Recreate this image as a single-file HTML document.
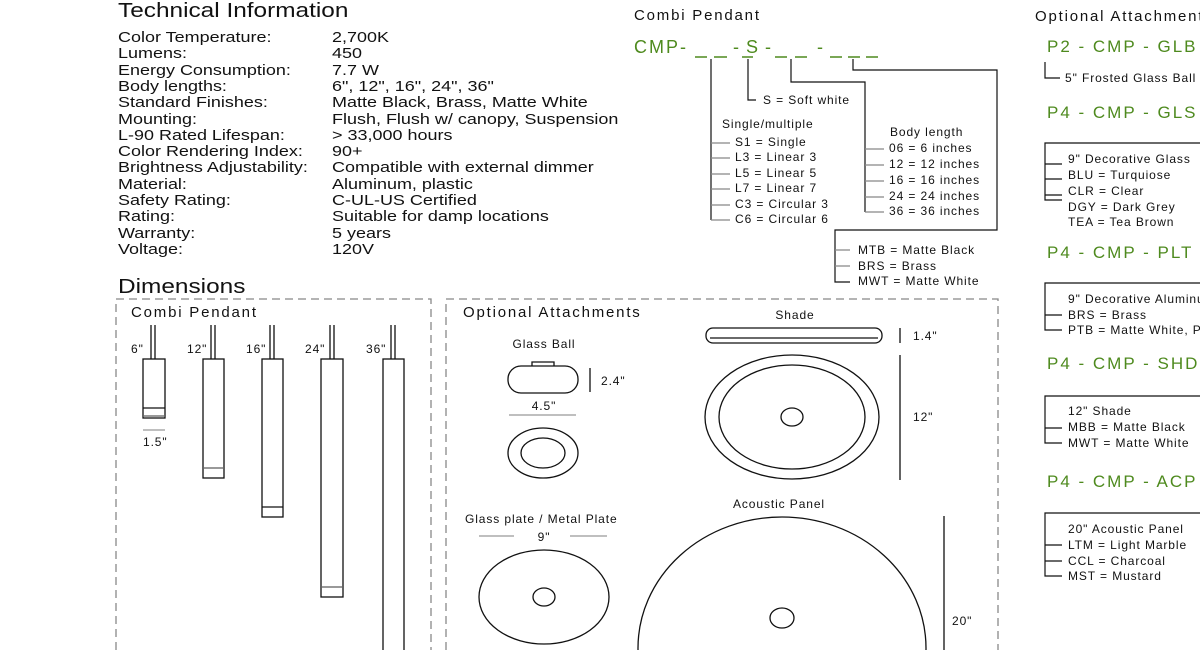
<!DOCTYPE html>
<html><head><meta charset="utf-8"><style>
html,body{margin:0;padding:0;background:#fff;width:1200px;height:650px;overflow:hidden}
svg{display:block}
text{font-family:"Liberation Sans",sans-serif;fill:#111}
.t{font-size:14.5px}
.s{font-size:12px;letter-spacing:0.9px}
.h{font-size:15px;letter-spacing:1.8px}
.g{fill:#4e8a1e}
</style></head><body>
<svg width="1200" height="650" viewBox="0 0 1200 650" xmlns="http://www.w3.org/2000/svg">
<g transform="translate(118,0) scale(1.22,1)">
<text x="0" y="17" font-size="20">Technical Information</text>
<text x="0" y="293" font-size="20">Dimensions</text>
</g>
<g class="t" transform="translate(118,0) scale(1.24,1)">
<text x="0" y="42">Color Temperature:</text><text x="172.6" y="42">2,700K</text>
<text x="0" y="58">Lumens:</text><text x="172.6" y="58">450</text>
<text x="0" y="75">Energy Consumption:</text><text x="172.6" y="75">7.7 W</text>
<text x="0" y="91">Body lengths:</text><text x="172.6" y="91">6", 12", 16", 24", 36"</text>
<text x="0" y="107">Standard Finishes:</text><text x="172.6" y="107">Matte Black, Brass, Matte White</text>
<text x="0" y="124">Mounting:</text><text x="172.6" y="124">Flush, Flush w/ canopy, Suspension</text>
<text x="0" y="140">L-90 Rated Lifespan:</text><text x="172.6" y="140">&gt; 33,000 hours</text>
<text x="0" y="156">Color Rendering Index:</text><text x="172.6" y="156">90+</text>
<text x="0" y="172">Brightness Adjustability:</text><text x="172.6" y="172">Compatible with external dimmer</text>
<text x="0" y="189">Material:</text><text x="172.6" y="189">Aluminum, plastic</text>
<text x="0" y="205">Safety Rating:</text><text x="172.6" y="205">C-UL-US Certified</text>
<text x="0" y="221">Rating:</text><text x="172.6" y="221">Suitable for damp locations</text>
<text x="0" y="238">Warranty:</text><text x="172.6" y="238">5 years</text>
<text x="0" y="254">Voltage:</text><text x="172.6" y="254">120V</text>
</g>

<!-- dashed boxes -->
<g fill="none" stroke="#888" stroke-width="1.3" stroke-dasharray="8,5">
<path d="M116,650 V299 H431 V650"/>
<path d="M446,650 V299 H998 V650"/>
</g>
<text x="131" y="317" class="h">Combi Pendant</text>
<text x="463" y="317" class="h">Optional Attachments</text>

<!-- pendants -->
<g fill="none" stroke="#111" stroke-width="1.3">
<path d="M151,325V359M155,325V359"/><rect x="143" y="359" width="22" height="59"/><path d="M143,408H165"/>
<path d="M211,325V359M215,325V359"/><rect x="203" y="359" width="21" height="119"/>
<path d="M270,325V359M274,325V359"/><rect x="262" y="359" width="21" height="158"/><path d="M262,507H283"/>
<path d="M330,325V359M334,325V359"/><rect x="321" y="359" width="22" height="238"/>
<path d="M391,325V359M395,325V359"/><rect x="383" y="359" width="21" height="300"/>
</g>
<g stroke="#999" stroke-width="2"><path d="M144,416H164M204,468H223M322,587H342"/><path d="M143,430H165" stroke-width="1.3"/></g>
<g class="s">
<text x="131" y="353">6"</text><text x="187" y="353">12"</text><text x="246" y="353">16"</text><text x="305" y="353">24"</text><text x="366" y="353">36"</text>
<text x="143" y="446">1.5"</text>
</g>

<!-- attachments -->
<g fill="none" stroke="#111" stroke-width="1.3">
<rect x="508" y="366" width="70" height="27" rx="13"/>
<path d="M532,366V362H554V366"/>
<path d="M590,368V392"/>
<ellipse cx="543" cy="453" rx="35" ry="25"/><ellipse cx="543" cy="453" rx="22" ry="15"/>
<rect x="706" y="328" width="176" height="15" rx="7"/><path d="M710,338H878"/>
<path d="M900,328V343M900,355V480"/>
<ellipse cx="792" cy="417" rx="87" ry="62"/><ellipse cx="792" cy="417" rx="73" ry="52"/><ellipse cx="792" cy="417" rx="11" ry="9"/>
<ellipse cx="544" cy="597" rx="65" ry="47"/><ellipse cx="544" cy="597" rx="11" ry="9"/>
<ellipse cx="782" cy="648" rx="144" ry="131"/><ellipse cx="782" cy="618" rx="12" ry="10"/>
<path d="M944,516V650"/>
</g>
<g stroke="#999" stroke-width="1.3"><path d="M509,415H576M479,536H514M570,536H607"/></g>
<g class="s" text-anchor="middle">
<text x="544" y="348">Glass Ball</text><text x="544" y="410">4.5"</text>
<text x="795" y="319">Shade</text><text x="779" y="508">Acoustic Panel</text>
<text x="544" y="541">9"</text>
</g>
<g class="s">
<text x="601" y="385">2.4"</text><text x="913" y="340">1.4"</text><text x="913" y="421">12"</text><text x="952" y="625">20"</text>
<text x="465" y="523">Glass plate  / Metal Plate</text>
</g>

<!-- part number -->
<text x="634" y="20" class="h">Combi Pendant</text>
<text x="634" y="53" font-size="18" letter-spacing="2" class="g">CMP-</text>
<text x="733" y="53" font-size="18" letter-spacing="1" class="g">- S -</text>
<text x="817" y="53" font-size="18" class="g">-</text>
<g stroke="#4e8a1e" stroke-width="1.5"><path d="M695,57H707M714,57H727M742,57H753M775,57H787M795,57H807M830,57H842M848,57H860M866,57H878"/></g>
<g fill="none" stroke="#111" stroke-width="1.2">
<path d="M711,59V220"/><path d="M748,59V100H756"/>
<path d="M791,59V82H865V212"/><path d="M853,59V70H997V230H835V282H850"/>
</g>
<g stroke="#888" stroke-width="1.3"><path d="M711,143H730M711,158H730M711,174H730M711,189H730M711,205H730M711,220H730M865,149H884M865,165H884M865,181H884M865,197H884M865,212H884M835,250H850M835,266H850"/></g>
<g class="s">
<text x="763" y="104">S = Soft white</text>
<text x="722" y="128">Single/multiple</text>
<text x="735" y="146">S1 = Single</text><text x="735" y="161">L3 = Linear 3</text><text x="735" y="177">L5 = Linear 5</text><text x="735" y="192">L7 = Linear 7</text><text x="735" y="208">C3 = Circular 3</text><text x="735" y="223">C6 = Circular 6</text>
<text x="890" y="136">Body length</text>
<text x="889" y="152">06 = 6 inches</text><text x="889" y="168">12 = 12 inches</text><text x="889" y="184">16 = 16 inches</text><text x="889" y="200">24 = 24 inches</text><text x="889" y="215">36 = 36 inches</text>
<text x="858" y="254">MTB = Matte Black</text><text x="858" y="270">BRS = Brass</text><text x="858" y="285">MWT = Matte White</text>
</g>

<!-- right column -->
<text x="1035" y="21" class="h">Optional Attachments</text>
<g font-size="17" letter-spacing="2">
<text x="1047" y="52" class="g">P2 - CMP - GLB</text>
<text x="1047" y="118" class="g">P4 - CMP - GLS</text>
<text x="1047" y="258" class="g">P4 - CMP - PLT -</text>
<text x="1047" y="369" class="g">P4 - CMP - SHD</text>
<text x="1047" y="487" class="g">P4 - CMP - ACP</text>
</g>
<g fill="none" stroke="#111" stroke-width="1.2">
<path d="M1045,62V78H1060"/>
<path d="M1200,143H1045V200H1062M1045,164H1062M1045,179H1062M1045,195H1062"/>
<path d="M1200,283H1045V330H1062M1045,315H1062"/>
<path d="M1200,396H1045V443H1062M1045,428H1062"/>
<path d="M1200,513H1045V576H1062M1045,545H1062M1045,561H1062"/>
</g>
<g class="s">
<text x="1065" y="82">5" Frosted Glass Ball</text>
<text x="1068" y="163">9" Decorative Glass</text><text x="1068" y="179">BLU = Turquiose</text><text x="1068" y="195">CLR = Clear</text><text x="1068" y="211">DGY = Dark Grey</text><text x="1068" y="226">TEA = Tea Brown</text>
<text x="1068" y="303">9" Decorative Aluminum</text><text x="1068" y="319">BRS = Brass</text><text x="1068" y="334">PTB = Matte White, Pewter</text>
<text x="1068" y="415">12" Shade</text><text x="1068" y="431">MBB = Matte Black</text><text x="1068" y="447">MWT = Matte White</text>
<text x="1068" y="533">20" Acoustic Panel</text><text x="1068" y="549">LTM = Light Marble</text><text x="1068" y="565">CCL = Charcoal</text><text x="1068" y="580">MST = Mustard</text>
</g>
</svg>
</body></html>
